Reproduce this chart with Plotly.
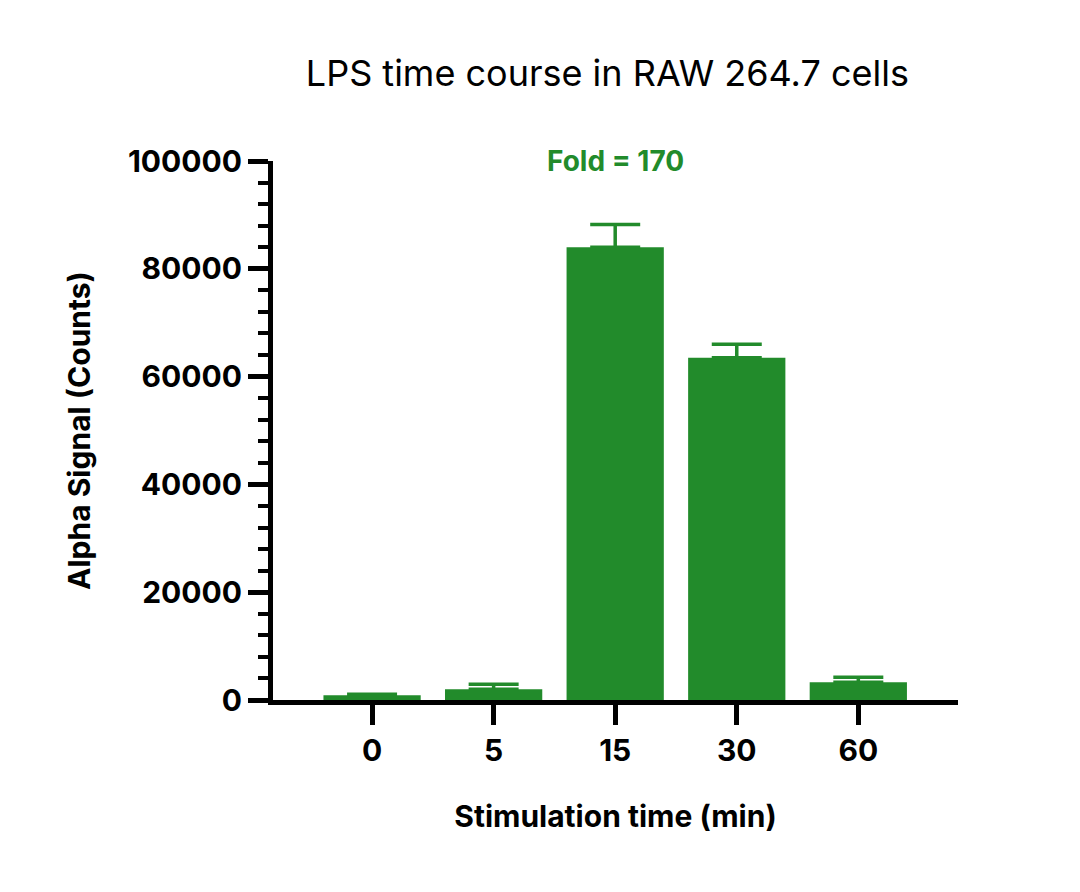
import plotly.graph_objects as go

# data
times = ["0", "5", "15", "30", "60"]
signal = [900, 2000, 84000, 63500, 3300]
sd_plus = [150, 900, 4200, 2500, 900]

green = "#228B2B"
font_family = "Inter, 'Open Sans', sans-serif"

xpos = list(range(len(times)))

fig = go.Figure()
fig.add_bar(x=xpos, y=signal, width=0.8, marker=dict(color=green, line=dict(width=0)),
            error_y=dict(type="data", array=sd_plus, arrayminus=[0] * len(sd_plus),
                         symmetric=False, color=green, thickness=3.5, width=25))

fig.add_annotation(x=2, y=100000, text="<b>Fold = 170</b>", showarrow=False,
                   yanchor="middle", font=dict(size=28, color=green, family=font_family))

fig.update_layout(
    width=1080, height=892,
    plot_bgcolor="white", paper_bgcolor="white",
    margin=dict(l=265, r=130, t=153, b=200),
    showlegend=False,
    title=dict(text="LPS time course in RAW 264.7 cells", x=0.555, xanchor="center",
               y=0.927, yanchor="middle", font=dict(size=36, color="black", family=font_family)),
    font=dict(family=font_family, color="black"),
)
fig.update_xaxes(range=[-0.815, 4.82], tickvals=xpos, ticktext=["<b>%s</b>" % t for t in times],
                 tickfont=dict(size=30), showline=True, linecolor="black", linewidth=5,
                 ticks="outside", ticklen=20, tickwidth=5, tickcolor="black", showgrid=False,
                 zeroline=False,
                 title=dict(text="<b>Stimulation time (min)</b>", font=dict(size=30), standoff=40))
fig.update_yaxes(range=[0, 100000], tickvals=[0, 20000, 40000, 60000, 80000, 100000],
                 ticktext=["<b>%d</b>" % v for v in [0, 20000, 40000, 60000, 80000, 100000]],
                 tickfont=dict(size=30), showline=True, linecolor="black", linewidth=5,
                 ticks="outside", ticklen=20, tickwidth=5, tickcolor="black", showgrid=False,
                 zeroline=False,
                 minor=dict(dtick=4000, ticks="outside", ticklen=10, tickwidth=4, tickcolor="black",
                            showgrid=False),
                 title=dict(text="<b>Alpha Signal (Counts)</b>", font=dict(size=30), standoff=30))

fig.write_html("out.html")
